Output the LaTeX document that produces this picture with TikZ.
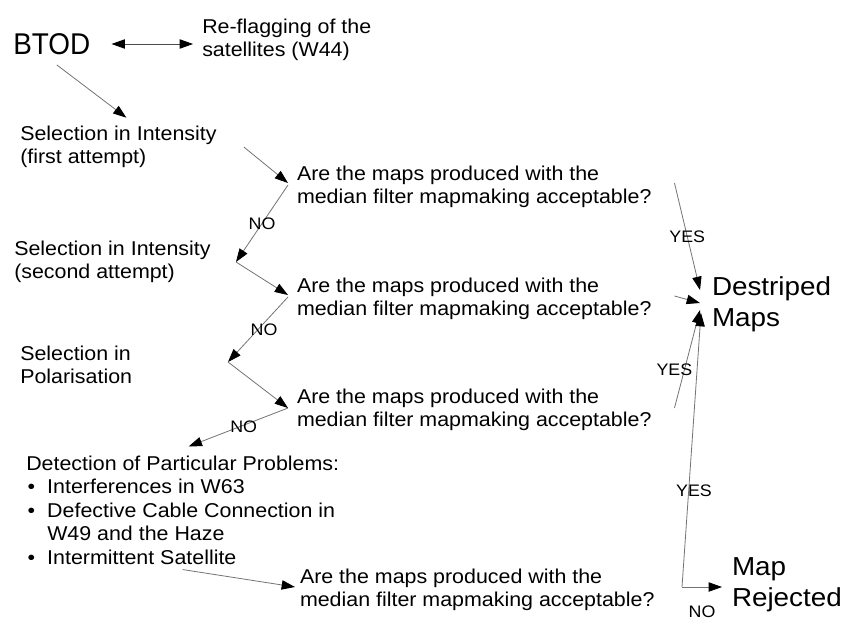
\documentclass[tikz,border=0pt]{standalone}
\usepackage{fontspec}
\setmainfont{Liberation Sans}[FakeStretch=1.07]
\newfontfamily\btodfont{Liberation Sans}[FakeStretch=0.93]
\usetikzlibrary{arrows.meta}
\newcommand{\bul}{\makebox[15.75pt][l]{\hspace{1pt}\textbullet}}

\begin{document}
\begin{tikzpicture}[
  x = 0.75pt, y = -0.75pt,
  txt/.style  = {inner sep=0pt, anchor=west, align=left,
                 font=\fontsize{15}{17.6}\selectfont},
  big/.style  = {inner sep=0pt, anchor=west, align=left,
                 font=\fontsize{19.5}{23.5}\selectfont},
  qbox/.style = {txt, outer xsep=6.75pt},
  lbl/.style  = {inner sep=0pt, font=\fontsize{12.5}{14}\selectfont},
  arr/.style  = {-{Triangle[length=10pt, width=7pt, color=black]},
                 draw=black!55, line width=0.6pt},
  darr/.style = {{Triangle[length=10pt, width=7pt, color=black]}-{Triangle[length=10pt, width=7pt, color=black]},
                 draw=black!70, line width=0.6pt}
]
\useasboundingbox (0,0) rectangle (845,617);

\node[big, font=\btodfont\fontsize{22.5}{26}\selectfont] (btod) at (13,44) {BTOD};
\node[txt]  (flag) at (202,40)  {Re-flagging of the\\satellites (W44)};
\node[txt]  (sel1) at (20,147)  {Selection in Intensity\\(first attempt)};
\node[txt]  (sel2) at (14,262)  {Selection in Intensity\\(second attempt)};
\node[txt]  (sel3) at (20,365)  {Selection in\\Polarisation};
\node[txt]  (det)  at (26,510)  {Detection of Particular Problems:\\
                                 \bul Interferences in W63\\
                                 \bul Defective Cable Connection in\\
                                 \hspace*{15.75pt}W49 and the Haze\\
                                 \bul Intermittent Satellite};
\node[qbox] (q1)   at (288,187) {Are the maps produced with the\\median filter mapmaking acceptable?};
\node[qbox] (q2)   at (288,299) {Are the maps produced with the\\median filter mapmaking acceptable?};
\node[qbox] (q3)   at (288,410) {Are the maps produced with the\\median filter mapmaking acceptable?};
\node[qbox] (q4)   at (291,590) {Are the maps produced with the\\median filter mapmaking acceptable?};
\node[big, outer xsep=6.75pt] (dest) at (703,304) {Destriped\\Maps};
\node[big, outer xsep=6.75pt] (rej)  at (723,585) {Map\\Rejected};

\coordinate (j1) at (236,262);
\coordinate (j2) at (228,362);
\coordinate (j4) at (682,587);

\draw[darr] ([shift={(21,0)}]btod.east) -- ([shift={(-9,4)}]flag.west);
\draw[arr]  ([shift={(5,10)}]btod.south) -- ([shift={(8,-8)}]sel1.north);
\draw[arr]  ([shift={(27,0)}]sel1.east) -- ([shift={(0,-4)}]q1.west);
\draw[arr]  ([shift={(0,-2)}]q1.west) -- node[lbl]{NO} (j1);
\draw[arr]  (j1) -- ([shift={(0,-4)}]q2.west);
\draw[arr]  ([shift={(0,-2)}]q2.west) -- node[lbl, xshift=4.5pt]{NO} (j2);
\draw[arr]  (j2) -- ([shift={(0,-2)}]q3.west);
\draw[arr]  ([shift={(0,-2)}]q3.west) -- node[lbl, xshift=4pt]{NO} ([shift={(6,-9)}]det.north);
\draw[arr]  ([shift={(0,5)}]det.south) -- ([shift={(4,-3)}]q4.west);

\draw[arr]  ([shift={(14,-4)}]q1.east) -- node[lbl]{YES} ([shift={(-3,-14)}]dest.west);
\draw[arr]  ([shift={(14,-3)}]q2.east) -- ([shift={(-3,-1)}]dest.west);
\draw[arr]  ([shift={(14,-2)}]q3.east) -- node[lbl, pos=0.39, xshift=-7.5pt]{YES} ([shift={(-3,6)}]dest.west);
\draw[arr]  (j4) -- node[lbl, pos=0.35, xshift=4pt]{YES} ([shift={(-2,9)}]dest.west);
\draw[arr]  (j4) -- node[lbl, below=14pt]{NO} ([shift={(-1,2)}]rej.west);
\end{tikzpicture}
\end{document}
